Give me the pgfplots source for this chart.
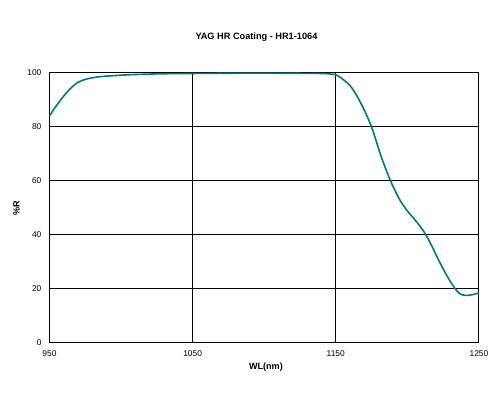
\documentclass[border=0pt]{standalone}
\usepackage{fontspec}
\setmainfont{Liberation Sans}
\usepackage{pgfplots}
\pgfplotsset{compat=1.18}
\definecolor{curve}{RGB}{0,122,122}
\begin{document}
\begin{tikzpicture}
\begin{axis}[
  scale only axis,
  width=322.1pt, height=202.3pt,
  xmin=950, xmax=1250, ymin=0, ymax=100,
  xtick={950,1050,1150,1250},
  ytick={0,20,...,100},
  major tick length=0pt,
  grid=major,
  grid style={black, line width=0.75pt},
  axis line style={black, line width=0.75pt},
  tick label style={font=\fontsize{6.3}{7}\selectfont},
  xticklabel style={yshift=-2.5pt},
  yticklabel style={xshift=-2.5pt},
  /pgf/number format/assume math mode=true,
  /pgf/number format/1000 sep={},
  title={YAG HR Coating - HR1-1064},
  title style={font=\fontsize{6.9}{8}\bfseries, at={(axis description cs:0.482,1)}, anchor=center, yshift=20.5pt},
  xlabel={WL(nm)},
  xlabel style={font=\fontsize{6.8}{8}\bfseries, at={(axis description cs:0.504,0)}, anchor=center, yshift=-18pt},
  ylabel={\%R},
  ylabel style={font=\fontsize{6.8}{8}\bfseries, at={(axis description cs:-0.0768,0.5)}, anchor=center},
]
\addplot[curve, line width=1.2pt, smooth, tension=0.5] coordinates {
  (950,84) (953,86.5) (956,88.7) (959,90.8) (962,92.7) (965,94.4) (968,95.8)
  (971,96.8) (975,97.6) (980,98.2) (985,98.6) (995,99.0) (1005,99.3) (1015,99.5)
  (1030,99.7) (1050,99.8) (1080,99.9) (1110,99.9) (1140,99.8) (1146,99.6)
  (1150,99.3) (1153,98.4) (1156.5,97.0) (1160,95.3) (1163.5,92.6) (1167,89.3)
  (1171,85.0) (1175,80.0) (1178,75.2) (1181,70.1) (1184.5,65.0) (1188,60.3)
  (1191.5,56.3) (1195,52.7) (1199.5,49.2) (1204.4,46.1) (1208.5,43.4)
  (1212.6,40.3) (1215.5,37.5) (1218.4,34.4) (1221.3,31.2) (1224.3,28.1)
  (1227.2,25.2) (1230.1,22.6) (1233,20.3) (1235.9,18.5) (1238.6,17.7)
  (1241.3,17.5) (1246.4,17.9) (1250,18.5)
};
\end{axis}
\useasboundingbox (-37.1pt,-43pt) rectangle (337.9pt,257pt);
\end{tikzpicture}
\end{document}
